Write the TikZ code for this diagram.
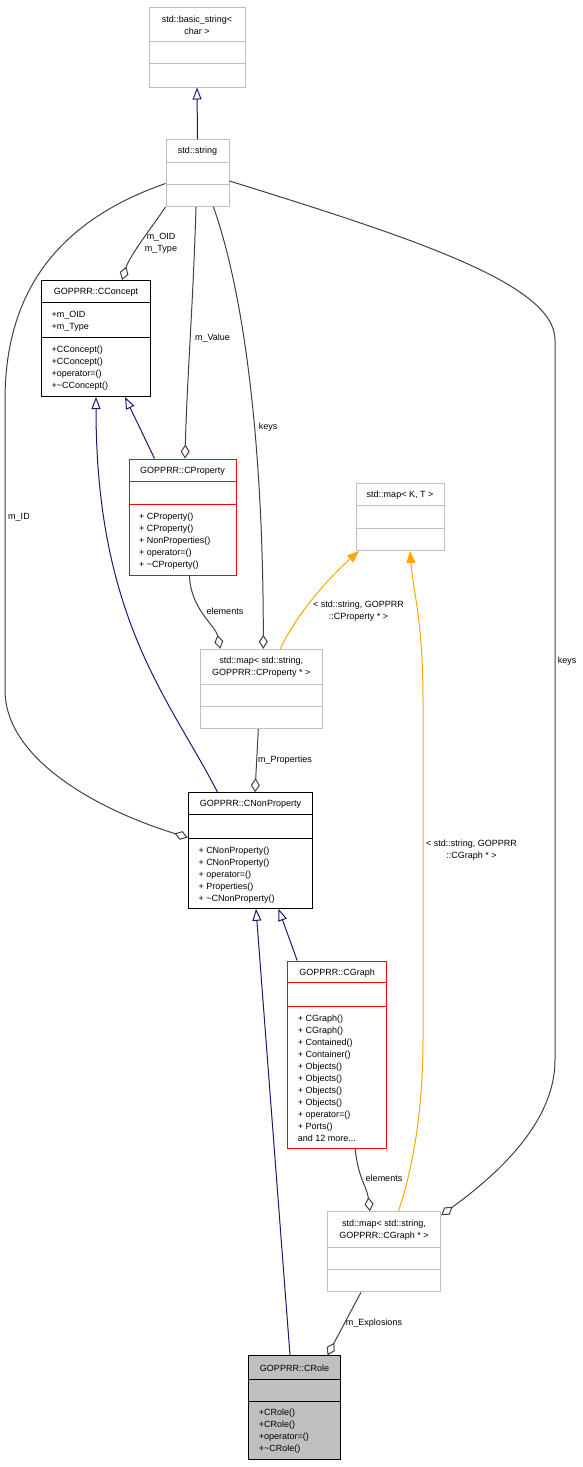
\documentclass[tikz,border=0pt]{standalone}
\usepackage{fontspec}
\setmainfont{Liberation Sans}
\usepackage{tikz}
\usetikzlibrary{arrows.meta}

\definecolor{dxgray}{HTML}{BFBFBF}
\definecolor{dxedge}{HTML}{404040}
\definecolor{dxnavy}{HTML}{191970}
\definecolor{dxorange}{HTML}{FFA500}

\tikzset{
  box/.style={draw, line width=1pt, inner sep=0pt},
  boxgray/.style={box, draw=dxgray},
  boxred/.style={box, draw=red},
  boxblack/.style={box, draw=black},
  ttl/.style={align=center, inner sep=0pt},
  lst/.style={align=left, anchor=north west, inner sep=0pt, execute at begin node=\strut},
  lbl/.style={align=center, inner sep=0pt},
  agg/.style={draw=dxedge, line width=1pt, -{Diamond[open, length=14pt, width=9pt]}},
  inh/.style={draw=dxnavy, line width=1pt, -{Triangle[open, length=12pt, width=9pt]}},
  tmpl/.style={draw=dxorange, line width=1pt, -{Triangle[length=12pt, width=9pt]}},
}

\begin{document}
\begin{tikzpicture}[x=1pt, y=-1pt, every node/.style={font=\fontsize{9}{12}\selectfont}]
  \useasboundingbox (0,0) rectangle (583,1467);

  % std::basic_string<char>
  \node[boxgray, minimum width=96, minimum height=80] (basicstr) at (197,47) {};
  \draw[boxgray] (basicstr.west |- 0,41) -- (basicstr.east |- 0,41) (basicstr.west |- 0,63) -- (basicstr.east |- 0,63);
  \node[ttl] (basicstr-t) at (197,25) {std::basic\_string<\\char >};

  % std::string
  \node[boxgray, minimum width=63, minimum height=67] (stdstr) at (197.5,173) {};
  \draw[boxgray] (stdstr.west |- 0,162.3) -- (stdstr.east |- 0,162.3) (stdstr.west |- 0,184.3) -- (stdstr.east |- 0,184.3);
  \node[ttl] (stdstr-t) at (197.5,151.5) {std::string};

  % GOPPRR::CConcept
  \node[boxblack, minimum width=109, minimum height=116] (cconcept) at (96,338.5) {};
  \draw[boxblack] (cconcept.west |- 0,302.7) -- (cconcept.east |- 0,302.7) (cconcept.west |- 0,337.7) -- (cconcept.east |- 0,337.7);
  \node[ttl] (cconcept-t) at (96,292.5) {GOPPRR::CConcept};
  \node[lst] (cconcept-a) at (51.5,311.2) {+m\_OID\\+m\_Type};
  \node[lst] (cconcept-m) at (51.5,345.8) {+CConcept()\\+CConcept()\\+operator=()\\+\textasciitilde CConcept()};

  % GOPPRR::CProperty
  \node[boxred, minimum width=107, minimum height=116] (cproperty) at (182.5,517) {};
  \draw[boxred] (cproperty.west |- 0,481.7) -- (cproperty.east |- 0,481.7) (cproperty.west |- 0,504.7) -- (cproperty.east |- 0,504.7);
  \node[ttl] (cproperty-t) at (182.5,471.2) {GOPPRR::CProperty};
  \node[lst] (cproperty-m) at (139,512.6) {+ CProperty()\\+ CProperty()\\+ NonProperties()\\+ operator=()\\+ \textasciitilde CProperty()};

  % std::map<K,T>
  \node[boxgray, minimum width=88, minimum height=67] (mapkt) at (400,517) {};
  \draw[boxgray] (mapkt.west |- 0,505.3) -- (mapkt.east |- 0,505.3) (mapkt.west |- 0,528.7) -- (mapkt.east |- 0,528.7);
  \node[ttl] (mapkt-t) at (400,495) {std::map< K, T >};

  % std::map<std::string, GOPPRR::CProperty*>
  \node[boxgray, minimum width=122.6, minimum height=79.4] (mapprop) at (261.3,689) {};
  \draw[boxgray] (mapprop.west |- 0,684) -- (mapprop.east |- 0,684) (mapprop.west |- 0,706) -- (mapprop.east |- 0,706);
  \node[ttl] (mapprop-t) at (261.3,667.4) {std::map< std::string,\\GOPPRR::CProperty * >};

  % GOPPRR::CNonProperty
  \node[boxblack, minimum width=124.4, minimum height=115.6] (cnonprop) at (250.5,850.5) {};
  \draw[boxblack] (cnonprop.west |- 0,814.7) -- (cnonprop.east |- 0,814.7) (cnonprop.west |- 0,838) -- (cnonprop.east |- 0,838);
  \node[ttl] (cnonprop-t) at (250.5,804.4) {GOPPRR::CNonProperty};
  \node[lst] (cnonprop-m) at (198.3,846.3) {+ CNonProperty()\\+ CNonProperty()\\+ operator=()\\+ Properties()\\+ \textasciitilde CNonProperty()};

  % GOPPRR::CGraph
  \node[boxred, minimum width=99, minimum height=187.3] (cgraph) at (337.2,1054.7) {};
  \draw[boxred] (cgraph.west |- 0,982.7) -- (cgraph.east |- 0,982.7) (cgraph.west |- 0,1006) -- (cgraph.east |- 0,1006);
  \node[ttl] (cgraph-t) at (337.2,972.7) {GOPPRR::CGraph};
  \node[lst] (cgraph-m) at (297.7,1014.3) {+ CGraph()\\+ CGraph()\\+ Contained()\\+ Container()\\+ Objects()\\+ Objects()\\+ Objects()\\+ Objects()\\+ operator=()\\+ Ports()\\and 12 more...};

  % std::map<std::string, GOPPRR::CGraph*>
  \node[boxgray, minimum width=113.7, minimum height=80.3] (mapgraph) at (383.9,1251.8) {};
  \draw[boxgray] (mapgraph.west |- 0,1247) -- (mapgraph.east |- 0,1247) (mapgraph.west |- 0,1269.3) -- (mapgraph.east |- 0,1269.3);
  \node[ttl] (mapgraph-t) at (383.9,1230) {std::map< std::string,\\GOPPRR::CGraph * >};

  % GOPPRR::CRole
  \node[boxblack, fill=dxgray, minimum width=91.6, minimum height=103.6] (crole) at (294.5,1407.5) {};
  \draw[boxblack] (crole.west |- 0,1379) -- (crole.east |- 0,1379) (crole.west |- 0,1401.7) -- (crole.east |- 0,1401.7);
  \node[ttl] (crole-t) at (294.5,1368) {GOPPRR::CRole};
  \node[lst] (crole-m) at (258.7,1409.2) {+CRole()\\+CRole()\\+operator=()\\+\textasciitilde CRole()};

  % inheritance
  \draw[inh] (stdstr.north) -- (basicstr.south);
  \draw[inh] ([xshift=-28]cproperty.north) -- ([xshift=29]cconcept.south);
  \draw[inh] ([xshift=-33]cnonprop.north) .. controls +(-47,-92) and +(0,223) .. (cconcept.south);
  \draw[inh] ([xshift=-40]cgraph.north) -- ([xshift=28]cnonprop.south);
  \draw[inh] ([xshift=-4.5]crole.north) -- ([xshift=5.5]cnonprop.south);

  % template instances
  \draw[tmpl] ([xshift=19]mapprop.north) .. controls +(18,-38) and +(-28,25) .. ([xshift=-41]mapkt.south);
  \draw[tmpl] ([xshift=14.5]mapgraph.north) .. controls +(17,-50) and +(0,60) .. (423,1040) -- (423,700)
    .. controls +(0,-80) and +(3,40) .. ([xshift=10]mapkt.south);

  % members
  \draw[agg] (stdstr.south west) .. controls +(-12,18) and +(8,-25) .. ([xshift=26]cconcept.north);
  \draw[agg] ([xshift=-1.5]stdstr.south) .. controls +(-3,100) and +(2,-80) .. ([xshift=2.5]cproperty.north);
  \draw[agg] ([xshift=16]stdstr.south) .. controls +(35,100) and +(0,-180) .. ([xshift=2]mapprop.north);
  \draw[agg] ([yshift=-10.5]stdstr.west) .. controls +(-106,37) and +(0,-110) .. (5,400) -- (5,690)
    .. controls +(0,70) and +(-88,-27) .. ([yshift=13]cnonprop.west);
  \draw[agg] ([yshift=-8]stdstr.east) .. controls +(190,59) and +(0,-55) .. (555,340) -- (555,1060)
    .. controls +(0,55) and +(69,-50) .. ([yshift=-4]mapgraph.north east);
  \draw[agg] ([xshift=7]cproperty.south) .. controls +(1,34) and +(-5,-24) .. ([xshift=-41]mapprop.north);
  \draw[agg] ([xshift=-3]mapprop.south) -- ([xshift=4.5]cnonprop.north);
  \draw[agg] ([xshift=18]cgraph.south) .. controls +(3,30) and +(-3,-25) .. ([xshift=-14]mapgraph.north);
  \draw[agg] ([xshift=-23]mapgraph.south) -- ([xshift=33]crole.north);

  % edge labels
  \node[lbl] (l-oid) at (161,243) {m\_OID\\m\_Type};
  \node[lbl] (l-value) at (212.5,338) {m\_Value};
  \node[lbl] (l-keys) at (268,427) {keys};
  \node[lbl] (l-id) at (19,517) {m\_ID};
  \node[lbl] (l-keys2) at (567,661) {keys};
  \node[lbl] (l-elprop) at (225,611) {elements};
  \node[lbl] (l-tprop) at (358.5,611) {< std::string, GOPPRR\\::CProperty * >};
  \node[lbl] (l-tgraph) at (471.5,850) {< std::string, GOPPRR\\::CGraph * >};
  \node[lbl] (l-props) at (285,760) {m\_Properties};
  \node[lbl] (l-elgraph) at (384,1178) {elements};
  \node[lbl] (l-expl) at (374,1323) {m\_Explosions};
\end{tikzpicture}
\end{document}
